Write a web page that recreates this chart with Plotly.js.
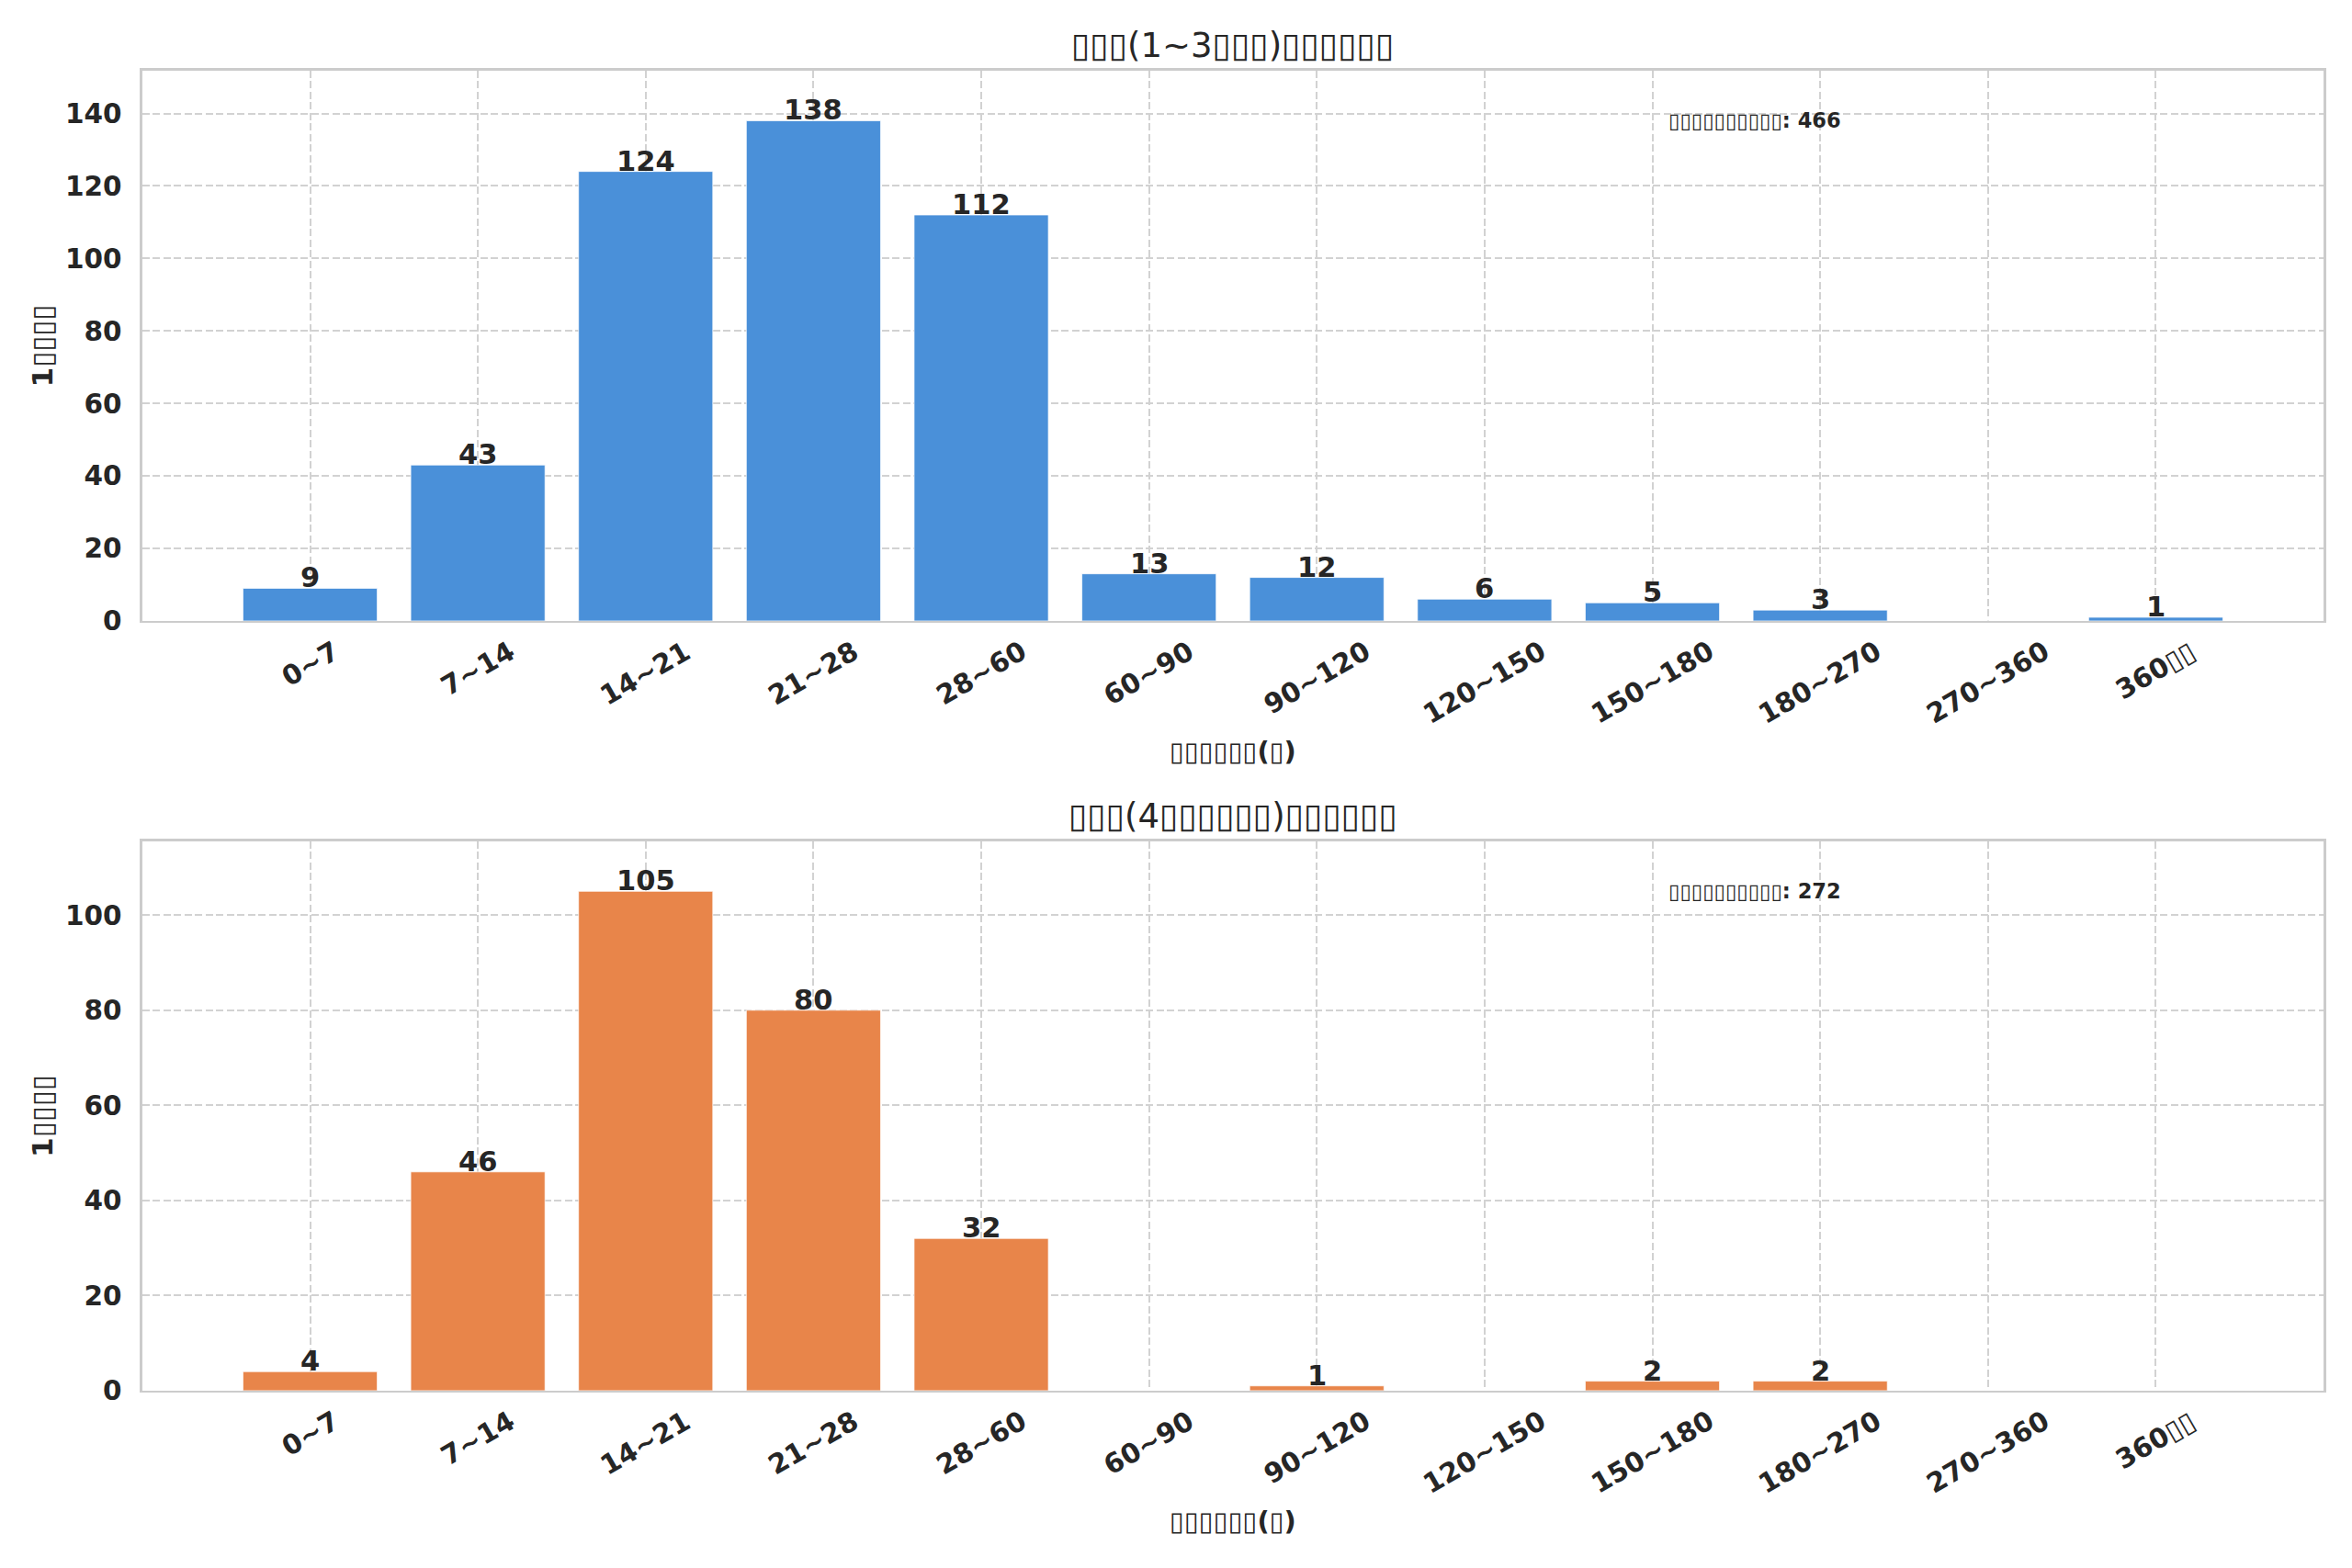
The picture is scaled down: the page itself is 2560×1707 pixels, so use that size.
<!DOCTYPE html>
<html>
<head>
<meta charset="utf-8">
<script src="https://cdn.plot.ly/plotly-3.0.1.min.js"></script>
<style>
  html, body { margin: 0; padding: 0; background: #fff; }
  #chart { width: 2560px; height: 1707px; }
</style>
</head>
<body>
<div id="chart"></div>
<script>
// missing-glyph boxes, as in the source picture
const BOX = '\u25AF';
const box = (n) => BOX.repeat(n);

// ---- Data ----
const categories   = ['0~7', '7~14', '14~21', '21~28', '28~60', '60~90', '90~120',
                      '120~150', '150~180', '180~270', '270~360', '360' + box(2)];
const firstValues  = [9, 43, 124, 138, 112, 13, 12, 6, 5, 3, 0, 1];
const repeatValues = [4, 46, 105, 80, 32, 0, 1, 0, 2, 2, 0, 0];

const titleTop    = box(3) + '(1~3' + box(3) + ')' + box(6);
const titleBottom = box(3) + '(4' + box(6) + ')' + box(6);
const xTitle      = box(6) + '<b>(</b>' + box(1) + '<b>)</b>';
const yTitle      = '<b>1</b>' + box(4);
const totalLabel  = box(10);

// ---- Style ----
const COLORS = {
  text:   '#262626',
  grid:   '#d2d2d2',
  spine:  '#cccccc',
  blue:   '#4a90d9',
  orange: '#e8854a',
};
const FONT = 'DejaVu Sans, sans-serif';
const TICK_SIZE = 29.5;
const X_DOMAIN      = [0.0605, 0.9879];
const TOP_DOMAIN    = [0.6040, 0.9549];
const BOTTOM_DOMAIN = [0.1131, 0.4634];

const boldDigits = (s) => s.replace(/[^\u25AF]+/g, (m) => '<b>' + m + '</b>');
const total = (vals) => vals.reduce((a, v) => a + v, 0);

function barTrace(vals, color, xa, ya) {
  return {
    type: 'bar',
    x: categories,
    y: vals,
    xaxis: xa,
    yaxis: ya,
    width: 0.8,
    marker: { color: color, line: { color: 'rgba(255,255,255,0.7)', width: 1 } },
    hoverinfo: 'x+y',
    showlegend: false,
  };
}

function xAxis(anchor) {
  return {
    domain: X_DOMAIN,
    anchor: anchor,
    type: 'category',
    range: [-1, 12],
    showticklabels: false,
    ticks: '',
    showgrid: true,
    gridcolor: COLORS.grid,
    gridwidth: 2,
    griddash: '8px,3.5px',
    showline: true,
    linecolor: COLORS.spine,
    linewidth: 2.5,
    mirror: true,
    zeroline: false,
    fixedrange: true,
    title: { text: xTitle, font: { family: FONT, size: 28.9, color: COLORS.text }, standoff: 131 },
  };
}

function yAxis(anchor, domain, vals) {
  return {
    domain: domain,
    anchor: anchor,
    range: [0, Math.max(...vals) * 1.1],
    tick0: 0,
    dtick: 20,
    ticks: '',
    ticklabelstandoff: 14,
    tickfont: { family: FONT, size: TICK_SIZE, color: COLORS.text, weight: 'bold' },
    showgrid: true,
    gridcolor: COLORS.grid,
    gridwidth: 2,
    griddash: '8px,3.5px',
    showline: true,
    linecolor: COLORS.spine,
    linewidth: 2.5,
    mirror: true,
    zeroline: false,
    fixedrange: true,
    title: { text: yTitle, font: { family: FONT, size: 31, color: COLORS.text }, standoff: 4 },
  };
}

// rotated category labels, centred under each bar like the source
function tickAnnotations(xa, ya) {
  return categories.map(c => ({
    x: c, xref: xa, y: 0, yref: ya + ' domain',
    text: boldDigits(c),
    textangle: -30,
    xanchor: 'center', yanchor: 'top',
    yshift: -13,
    showarrow: false,
    font: { family: FONT, size: TICK_SIZE, color: COLORS.text },
  }));
}

// value labels sitting right on the bar tops (zero bars left blank)
function valueAnnotations(vals, xa, ya) {
  return vals.map((v, i) => ({ v, c: categories[i] }))
    .filter(d => d.v > 0)
    .map(d => ({
      x: d.c, xref: xa, y: d.v, yref: ya,
      text: '<b>' + d.v + '</b>',
      xanchor: 'center', yanchor: 'bottom',
      yshift: -8,
      showarrow: false,
      font: { family: FONT, size: 30.5, color: COLORS.text },
    }));
}

function panelAnnotations(title, vals, xa, ya) {
  return [
    {
      x: 0.5, xref: xa + ' domain', y: 1.0467, yref: ya + ' domain',
      text: title, showarrow: false, xanchor: 'center', yanchor: 'middle',
      font: { family: FONT, size: 37, color: COLORS.text },
    },
    {
      x: 0.699, xref: xa + ' domain', y: 0.91, yref: ya + ' domain',
      text: totalLabel + '<b>: ' + total(vals) + '</b>', showarrow: false,
      xanchor: 'left', yanchor: 'middle',
      font: { family: FONT, size: 22.5, color: COLORS.text },
    },
    ...valueAnnotations(vals, xa, ya),
    ...tickAnnotations(xa, ya),
  ];
}

const data = [
  barTrace(firstValues, COLORS.blue, 'x', 'y'),
  barTrace(repeatValues, COLORS.orange, 'x2', 'y2'),
];

const layout = {
  width: 2560,
  height: 1707,
  margin: { l: 0, r: 0, t: 0, b: 0 },
  paper_bgcolor: '#ffffff',
  plot_bgcolor: '#ffffff',
  font: { family: FONT, color: COLORS.text },
  bargap: 0.2,
  xaxis:  xAxis('y'),
  yaxis:  yAxis('x', TOP_DOMAIN, firstValues),
  xaxis2: xAxis('y2'),
  yaxis2: yAxis('x2', BOTTOM_DOMAIN, repeatValues),
  annotations: [
    ...panelAnnotations(titleTop, firstValues, 'x', 'y'),
    ...panelAnnotations(titleBottom, repeatValues, 'x2', 'y2'),
  ],
};

Plotly.newPlot('chart', data, layout, { displayModeBar: false, staticPlot: true });
</script>
</body>
</html>
